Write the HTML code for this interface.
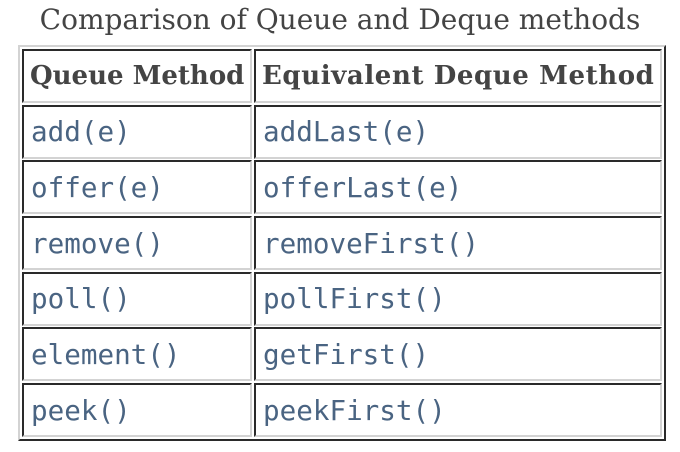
<!DOCTYPE html>
<html><head><meta charset="utf-8"><style>
body{margin:0;width:680px;height:452px;background:#fff;position:relative;overflow:hidden}
.t{position:absolute;left:0;width:680px;top:3px;text-align:center;font:28px "DejaVu Serif","Liberation Serif",serif;color:#444;white-space:nowrap}
.o{position:absolute;left:18px;top:45px;width:644px;height:392px;border:2px solid;border-color:#d3d3d3 #2a2a2a #2a2a2a #d3d3d3}
.c{position:absolute;box-sizing:border-box;border:2px solid;border-color:#2a2a2a #d3d3d3 #d3d3d3 #2a2a2a;height:54px;padding-left:7px;display:flex;align-items:center;font:27.6px "DejaVu Sans Mono","Liberation Mono",monospace;color:#4a6482;white-space:nowrap}
.a{left:22px;width:230px}.b{left:254px;width:408px}
.h{font:bold 26px "DejaVu Serif","Liberation Serif",serif;color:#444;padding-left:6px}
</style></head><body>
<div class="t">Comparison of Queue and Deque methods</div>
<div class="o"></div>
<div class="c a h" style="top:49px">Queue Method</div><div class="c b h" style="top:49px;letter-spacing:0.6px">Equivalent Deque Method</div>
<div class="c a" style="top:104.7px">add(e)</div><div class="c b" style="top:104.7px">addLast(e)</div>
<div class="c a" style="top:160.3px">offer(e)</div><div class="c b" style="top:160.3px">offerLast(e)</div>
<div class="c a" style="top:216px">remove()</div><div class="c b" style="top:216px">removeFirst()</div>
<div class="c a" style="top:271.7px">poll()</div><div class="c b" style="top:271.7px">pollFirst()</div>
<div class="c a" style="top:327.3px">element()</div><div class="c b" style="top:327.3px">getFirst()</div>
<div class="c a" style="top:383px">peek()</div><div class="c b" style="top:383px">peekFirst()</div>
</body></html>
